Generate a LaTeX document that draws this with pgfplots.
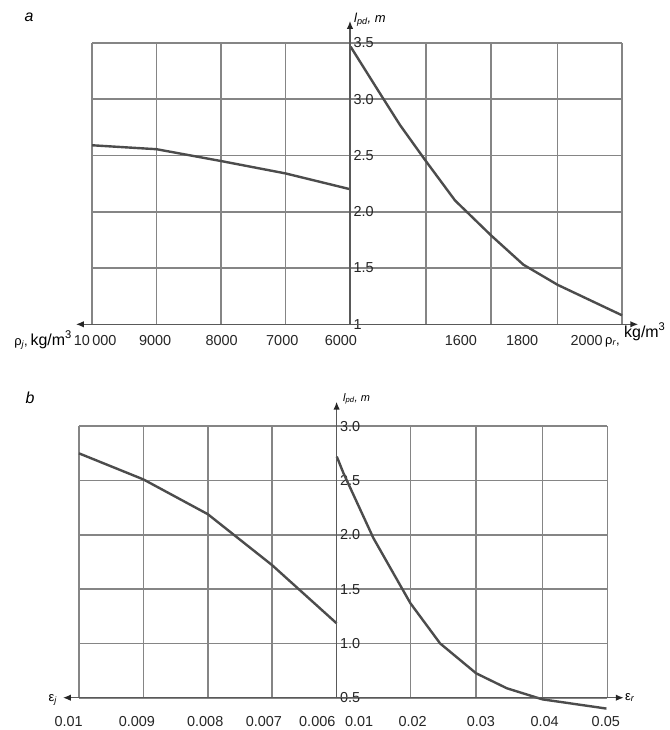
\documentclass[border=0pt]{standalone}
\usepackage{fontspec}
\setmainfont{Liberation Sans}
\usepackage{pgfplots}
\pgfplotsset{compat=1.18}
\usetikzlibrary{arrows.meta}

\definecolor{gridgray}{gray}{0.52}
\definecolor{curvegray}{gray}{0.3}
\definecolor{axisgray}{gray}{0.35}

% x: grid cells from the central axis, left cells = 1000 kg/m3 or 0.001
\pgfplotstableread{
x y
-4 2.59
-3 2.555
-2 2.45
-1 2.34
0 2.20
}\aleft
\pgfplotstableread{
x y
0.01 3.465
0.465 3.05
0.775 2.77
1.163 2.46
1.628 2.10
2.186 1.79
2.687 1.53
3.221 1.35
4.217 1.08
}\aright
\pgfplotstableread{
x y
-4 2.75
-3 2.51
-2 2.19
-1 1.72
0 1.185
}\bleft
\pgfplotstableread{
x y
0.003 2.72
0.105 2.57
0.571 1.97
1.146 1.37
1.607 1.00
2.166 0.725
2.643 0.587
3.195 0.485
4.19 0.40
}\bright

\tikzset{axarrow/.style={axisgray, line width=1.4bp,
  -{Latex[length=8bp,width=6.5bp,fill=black!85,color=black!85]}}}

\pgfplotsset{
  panel/.style={
    anchor=south west,
    enlargelimits=false, clip=false,
    axis line style={draw=none},
    grid=major,
    major grid style={gridgray, line width=1.6bp},
    tick style={draw=none},
    major tick length=0pt,
    ytick pos=left, xtick pos=bottom,
    xticklabels={},
    ticklabel style={font=\fontsize{14.5}{16}\selectfont, text=black!85},
    xticklabel style={anchor=base},
    yticklabel style={anchor=west},
    extra x tick style={grid=none},
  },
  curve/.style={curvegray, line width=2.4bp, no markers},
}

\begin{document}
\begin{tikzpicture}
\useasboundingbox (0,0) rectangle (670bp,-730bp);

% ---- panel a ----
\begin{axis}[panel, at={(92bp,-324.3bp)},
  x=64.5bp, y=112.6bp,
  xmin=-4, xmax=4.22, ymin=1, ymax=3.5,
  xtick={-4,-3,-2,-1,0,1.18,2.19,3.22,4.22},
  ytick={1,1.5,2,2.5,3,3.5},
  yticklabels={1,1.5,2.0,2.5,3.0,3.5},
  yticklabel style={xshift=258bp},
  xticklabel style={yshift=-20.7bp},
  extra x ticks={-3.95,-3.02,-1.99,-1.05,-0.14,1.72,2.67,3.67},
  extra x tick labels={10\,000,9000,8000,7000,6000,1600,1800,2000},
]
\addplot[curve] table {\aleft};
\addplot[curve] table {\aright};
\draw[axarrow] (axis cs:0,1) -- (axis cs:0,3.695);
\draw[axarrow] (axis cs:0,1) -- (axis cs:-4.25,1);
\draw[axarrow] (axis cs:0,1) -- (axis cs:4.47,1);
\end{axis}

\node[anchor=base west, font=\itshape\fontsize{16}{18}\selectfont] at (21bp,-21.7bp) {a};
\node[anchor=base west, inner sep=0pt, font=\itshape\fontsize{13}{15}\selectfont] at (354bp,-22bp) {l\textsubscript{pd}, m};
\node[anchor=base east, inner sep=0pt] at (72bp,-345bp)
  {{\fontsize{13}{15}\selectfont ρ\textsubscript{\itshape j},} {\fontsize{16}{18}\selectfont kg/m\textsuperscript{3}}};
\node[anchor=base west, inner sep=0pt, font=\fontsize{13}{15}\selectfont] at (605bp,-344bp) {ρ\textsubscript{\itshape r},};
\node[anchor=base west, inner sep=0pt, font=\fontsize{16}{18}\selectfont] at (624bp,-337bp) {kg/m\textsuperscript{3}};

% ---- panel b ----
\begin{axis}[panel, at={(79bp,-697.7bp)},
  x=64.4bp, y=108.6bp,
  xmin=-4, xmax=4.205, ymin=0.5, ymax=3,
  xtick={-4,-3,-2,-1,0,1.146,2.166,3.195,4.205},
  ytick={0.5,1,1.5,2,2.5,3},
  yticklabels={0.5,1.0,1.5,2.0,2.5,3.0},
  yticklabel style={xshift=257.6bp},
  xticklabel style={yshift=-29bp},
  extra x ticks={-3.10,-2.04,-1.13,-0.30,0.35,1.18,2.24,3.23,4.18},
  extra x tick labels={0.009,0.008,0.007,0.006,0.01,0.02,0.03,0.04,0.05},
]
\addplot[curve] table {\bleft};
\addplot[curve] table {\bright};
\draw[axarrow] (axis cs:0,0.5) -- (axis cs:0,3.226);
\draw[axarrow] (axis cs:0,0.5) -- (axis cs:-4.25,0.5);
\draw[axarrow] (axis cs:0,0.5) -- (axis cs:4.46,0.5);
% leftmost tick label lies just outside xmin
\node[anchor=base, font=\fontsize{14.5}{16}\selectfont, text=black!85]
  at ([yshift=-29bp]axis cs:-4.16,0.5) {0.01};
\end{axis}

\node[anchor=base west, font=\itshape\fontsize{16}{18}\selectfont] at (22bp,-403bp) {b};
\node[anchor=base west, inner sep=0pt, font=\itshape\fontsize{11}{13}\selectfont] at (343bp,-401bp) {l\textsubscript{pd}, m};
\node[anchor=base east, inner sep=0pt, font=\fontsize{13}{15}\selectfont] at (57bp,-701bp) {ε\textsubscript{\itshape j}};
\node[anchor=base west, inner sep=0pt, font=\fontsize{13}{15}\selectfont] at (625bp,-700bp) {ε\textsubscript{\itshape r}};
\end{tikzpicture}
\end{document}
